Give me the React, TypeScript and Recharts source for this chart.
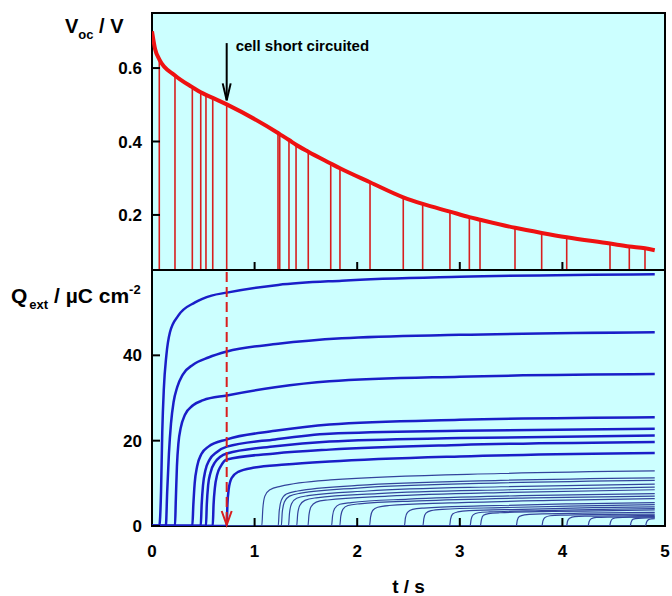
import React from 'react';
import { ComposedChart, Line, XAxis, YAxis, CartesianGrid, ReferenceLine, ReferenceArea } from 'recharts';

// ---------- data ----------
const xTicks = [0, 1, 2, 3, 4, 5];
const vocTicks = [0.2, 0.4, 0.6];
const qTicks = [0, 20, 40];

// times at which the cell was short circuited (s) and Voc read at that moment (V)
const shortTimes = [0.071, 0.224, 0.393, 0.475, 0.526, 0.592, 0.728, 1.228, 1.245, 1.335, 1.404, 1.523, 1.742, 1.832, 2.125, 2.449, 2.638, 2.904, 3.093, 3.197, 3.538, 3.798, 4.042, 4.464, 4.652, 4.805];
const vocAtShort = [0.624, 0.58, 0.548, 0.534, 0.527, 0.519, 0.501, 0.423, 0.42, 0.404, 0.391, 0.372, 0.34, 0.327, 0.289, 0.248, 0.23, 0.209, 0.194, 0.187, 0.165, 0.151, 0.139, 0.122, 0.114, 0.109];
const vocExtra = [[0, 0.7], [0.03, 0.652], [4.9, 0.104]];

const annotationTime = 0.728;
const annotationText = 'cell short circuited';

// extracted charge transients (t / s, Q / uC cm-2)
const thickCurves: number[][][] = [
  [[0, 0], [0.071, 0], [0.088, 8], [0.1, 22], [0.115, 32], [0.14, 40], [0.175, 45.4], [0.256, 49.3], [0.42, 52.4], [0.58, 54], [0.73, 54.7], [1.23, 56.5], [1.85, 57.5], [3, 58.4], [4.9, 59]],
  [[0, 0], [0.135, 0], [0.148, 8], [0.165, 17], [0.185, 24], [0.21, 29], [0.245, 32.5], [0.3, 35.5], [0.4, 37.8], [0.55, 39.5], [0.73, 40.9], [1.23, 42.7], [1.85, 44], [3, 44.8], [4.9, 45.4]],
  [[0, 0], [0.224, 0], [0.232, 6], [0.243, 14], [0.258, 19.5], [0.28, 23], [0.32, 26], [0.4, 28.3], [0.5, 29.5], [0.73, 30.6], [1.2, 32.5], [1.73, 33.9], [3, 35], [4.9, 35.6]],
  [[0, 0], [0.393, 0], [0.403, 5], [0.416, 10], [0.44, 14], [0.48, 16.8], [0.55, 18.6], [0.73, 20.3], [1.2, 22.3], [1.73, 23.8], [3, 24.9], [4.9, 25.5]],
  [[0, 0], [0.475, 0], [0.484, 5], [0.497, 9.5], [0.52, 13], [0.56, 15.5], [0.63, 17.3], [0.73, 18.6], [1.2, 20.3], [1.73, 21.6], [3, 22.3], [4.9, 22.8]],
  [[0, 0], [0.526, 0], [0.534, 5], [0.547, 9.5], [0.57, 12.5], [0.61, 14.8], [0.73, 17], [1.2, 18.7], [1.73, 19.8], [3, 20.6], [4.9, 21.2]],
  [[0, 0], [0.592, 0], [0.6, 5], [0.613, 9], [0.635, 12], [0.67, 14], [0.73, 15.6], [1.2, 17], [1.73, 17.9], [3, 19], [4.9, 19.7]],
  [[0, 0], [0.728, 0], [0.735, 5], [0.748, 8.7], [0.775, 11.2], [0.84, 12.7], [1.0, 13.7], [1.3, 14.4], [1.73, 15.1], [3, 16.3], [4.9, 17.1]],
];

const thinCurves: number[][][] = [
  [[0, 0], [1.07, 0], [1.08, 4], [1.1, 7], [1.15, 8.5], [1.25, 9.3], [1.74, 10.8], [3.4, 12.3], [4.9, 12.9]],
  [[0, 0], [1.23, 0], [1.24, 3.5], [1.26, 6], [1.31, 7.5], [1.42, 8.2], [2, 9.5], [3.4, 10.7], [4.9, 11.3]],
  [[0, 0], [1.26, 0], [1.27, 3.3], [1.29, 5.6], [1.34, 7], [1.45, 7.7], [2, 8.9], [3.4, 10.1], [4.9, 10.7]],
  [[0, 0], [1.33, 0], [1.34, 3], [1.36, 5.2], [1.41, 6.5], [1.52, 7.1], [2.1, 8.2], [3.4, 9.2], [4.9, 9.8]],
  [[0, 0], [1.41, 0], [1.42, 2.8], [1.44, 4.8], [1.49, 6], [1.6, 6.6], [2.2, 7.6], [3.5, 8.5], [4.9, 9.1]],
  [[0, 0], [1.52, 0], [1.53, 2.6], [1.55, 4.5], [1.6, 5.6], [1.71, 6.1], [2.3, 7.0], [3.5, 7.9], [4.9, 8.5]],
  [[0, 0], [1.75, 0], [1.76, 2.4], [1.78, 4.1], [1.83, 5.1], [1.94, 5.5], [2.5, 6.3], [3.6, 7.1], [4.9, 7.6]],
  [[0, 0], [1.83, 0], [1.84, 2.3], [1.86, 3.9], [1.91, 4.8], [2.02, 5.2], [2.6, 5.9], [3.7, 6.6], [4.9, 7.0]],
  [[0, 0], [2.12, 0], [2.13, 2.1], [2.15, 3.6], [2.2, 4.4], [2.31, 4.8], [2.9, 5.4], [3.9, 6.0], [4.9, 6.4]],
  [[0, 0], [2.46, 0], [2.47, 1.9], [2.49, 3.2], [2.54, 3.9], [2.65, 4.2], [3.2, 4.7], [4.1, 5.2], [4.9, 5.5]],
  [[0, 0], [2.64, 0], [2.65, 1.8], [2.67, 3.0], [2.72, 3.6], [2.83, 3.9], [3.4, 4.3], [4.2, 4.7], [4.9, 5.0]],
  [[0, 0], [2.9, 0], [2.91, 1.6], [2.93, 2.8], [2.98, 3.3], [3.09, 3.6], [3.6, 3.9], [4.3, 4.3], [4.9, 4.5]],
  [[0, 0], [3.1, 0], [3.11, 1.5], [3.13, 2.6], [3.18, 3.1], [3.29, 3.3], [3.8, 3.6], [4.4, 3.9], [4.9, 4.1]],
  [[0, 0], [3.2, 0], [3.21, 1.4], [3.23, 2.5], [3.28, 2.9], [3.39, 3.1], [3.9, 3.4], [4.5, 3.6], [4.9, 3.8]],
  [[0, 0], [3.55, 0], [3.56, 1.3], [3.58, 2.2], [3.63, 2.6], [3.74, 2.8], [4.2, 3.0], [4.9, 3.2]],
  [[0, 0], [3.8, 0], [3.81, 1.2], [3.83, 2.0], [3.88, 2.4], [3.99, 2.55], [4.4, 2.7], [4.9, 2.8]],
  [[0, 0], [4.04, 0], [4.05, 1.1], [4.07, 1.8], [4.12, 2.2], [4.23, 2.3], [4.6, 2.4], [4.9, 2.5]],
  [[0, 0], [4.25, 0], [4.26, 1.0], [4.28, 1.7], [4.33, 2.0], [4.44, 2.1], [4.9, 2.2]],
  [[0, 0], [4.46, 0], [4.47, 1.0], [4.49, 1.7], [4.54, 1.95], [4.65, 2.05], [4.9, 2.1]],
  [[0, 0], [4.66, 0], [4.67, 0.9], [4.69, 1.6], [4.74, 1.8], [4.85, 1.88], [4.9, 1.9]],
  [[0, 0], [4.81, 0], [4.82, 0.9], [4.84, 1.5], [4.87, 1.65], [4.9, 1.7]],
];

// ---------- derived tables ----------
const vocCurve = [...vocExtra, ...shortTimes.map((t, i) => [t, vocAtShort[i]])]
  .sort((a, b) => a[0] - b[0])
  .map(([t, v]) => ({ t, v }));
const toRows = (c: number[][]) => c.map(([t, q]) => ({ t, q }));
const annotationVoc = vocAtShort[shortTimes.indexOf(annotationTime)];

// ---------- styles ----------
const FONT = '"Liberation Sans", Arial, Helvetica, sans-serif';
const BG = '#ccffff';
const RED = '#ee1111';
const RED_LINE = '#d81e1e';
const BLUE = '#1a1ec8';
const BLUE_THIN = '#33449c';

const X_DOMAIN: [number, number] = [0, 5];
const VOC_DOMAIN: [number, number] = [0.05, 0.75];
const Q_DOMAIN: [number, number] = [0, 60];

function YTick(props: any) {
  const { x, y, payload } = props;
  return (
    <g>
      <line x1={x} y1={y} x2={x + 8} y2={y} stroke="#000" strokeWidth={2} />
      <text x={x - 10} y={y} dy="0.36em" textAnchor="end" fontFamily={FONT} fontWeight="bold" fontSize={17} fill="#000">
        {String(payload.value)}
      </text>
    </g>
  );
}

function makeXTick(withLabel: boolean) {
  return (props: any) => {
    const { x, y, payload } = props;
    const inner = payload.value > X_DOMAIN[0] && payload.value < X_DOMAIN[1];
    return (
      <g>
        {inner && <line x1={x} y1={y} x2={x} y2={y - 8} stroke="#000" strokeWidth={2} />}
        {withLabel && (
          <text x={x} y={y + 31} textAnchor="middle" fontFamily={FONT} fontWeight="bold" fontSize={17} fill="#000">
            {String(payload.value)}
          </text>
        )}
      </g>
    );
  };
}

function VocLabel(props: any) {
  const vb = props.viewBox || { x: 0, y: 13 };
  return (
    <text x={vb.x + 65} y={vb.y + 20} fontFamily={FONT} fontWeight="bold" fontSize={20} fill="#000">
      <tspan>V</tspan>
      <tspan fontSize={13} dy={6}>oc</tspan>
      <tspan dy={-6}> / V</tspan>
    </text>
  );
}

function QLabel(props: any) {
  const vb = props.viewBox || { x: 0, y: 10 };
  return (
    <text x={vb.x + 11} y={vb.y + 33} fontFamily={FONT} fontWeight="bold" fontSize={21} fill="#000">
      <tspan>Q</tspan>
      <tspan fontSize={13} dy={6} dx={2}>ext</tspan>
      <tspan dy={-6}> / µC cm</tspan>
      <tspan fontSize={13} dy={-9}>-2</tspan>
    </text>
  );
}

function TLabel(props: any) {
  const vb = props.viewBox || { x: 152, y: 266, width: 513 };
  return (
    <text x={vb.x + vb.width / 2} y={vb.y + 67} textAnchor="middle" fontFamily={FONT} fontWeight="bold" fontSize={19} fill="#000">
      t / s
    </text>
  );
}

function BlackArrow(props: any) {
  const { x1, y1, x2, y2 } = props;
  const top = Math.min(y1, y2);
  const tip = Math.max(y1, y2);
  return (
    <g>
      <line x1={x1} y1={top} x2={x2} y2={tip} stroke="#000" strokeWidth={2} />
      <polyline points={`${x2 - 4},${tip - 17} ${x2},${tip} ${x2 + 4},${tip - 17}`} fill="none" stroke="#000" strokeWidth={2} />
      <text x={x1 + 9} y={top + 7.5} fontFamily={FONT} fontWeight="bold" fontSize={15} fill="#000">
        {annotationText}
      </text>
    </g>
  );
}

function RedDashedArrow(props: any) {
  const { x1, y1, x2, y2 } = props;
  const top = Math.min(y1, y2);
  const tip = Math.max(y1, y2);
  return (
    <g>
      <line x1={x1} y1={top + 2} x2={x2} y2={tip - 2} stroke={RED_LINE} strokeWidth={2} strokeDasharray="10 5" />
      <polyline points={`${x2 - 5},${tip - 15} ${x2},${tip - 1} ${x2 + 5},${tip - 15}`} fill="none" stroke={RED_LINE} strokeWidth={2} />
    </g>
  );
}

export default function App() {
  return (
    <div style={{ position: 'absolute', left: 0, top: 0, width: 672, height: 596, background: '#fff' }}>
      <div style={{ position: 'absolute', left: 0, top: 0 }}>
        <ComposedChart width={672} height={280} margin={{ top: 13, right: 7, bottom: 0, left: 0 }}>
          <CartesianGrid horizontal={false} vertical={false} fill={BG} />
          <XAxis
            type="number"
            dataKey="t"
            domain={X_DOMAIN}
            ticks={xTicks}
            interval={0}
            height={10}
            tickSize={0}
            tickMargin={0}
            axisLine={false}
            tickLine={false}
            tick={makeXTick(false)}
            allowDataOverflow
          />
          <YAxis
            type="number"
            domain={VOC_DOMAIN}
            ticks={vocTicks}
            interval={0}
            width={152}
            tickSize={0}
            tickMargin={0}
            axisLine={false}
            tickLine={false}
            tick={<YTick />}
            allowDataOverflow
            label={{ content: (p: any) => <VocLabel {...p} /> }}
          />
          {shortTimes.map((t, i) => (
            <ReferenceLine
              key={'s' + i}
              segment={[{ x: t, y: VOC_DOMAIN[0] }, { x: t, y: vocAtShort[i] }]}
              stroke={RED_LINE}
              strokeWidth={1.6}
            />
          ))}
          <Line
            data={vocCurve}
            dataKey="v"
            type="monotone"
            stroke={RED}
            strokeWidth={4}
            dot={false}
            activeDot={false}
            isAnimationActive={false}
          />
          <ReferenceLine
            segment={[{ x: annotationTime, y: 0.668 }, { x: annotationTime, y: annotationVoc + 0.011 }]}
            shape={(p: any) => <BlackArrow {...p} />}
          />
          <ReferenceArea x1={X_DOMAIN[0]} x2={X_DOMAIN[1]} y1={VOC_DOMAIN[0]} y2={VOC_DOMAIN[1]} fill="none" stroke="#000" strokeWidth={2} fillOpacity={0} />
        </ComposedChart>
      </div>
      <div style={{ position: 'absolute', left: 0, top: 260 }}>
        <ComposedChart width={672} height={336} margin={{ top: 10, right: 7, bottom: 0, left: 0 }}>
          <CartesianGrid horizontal={false} vertical={false} fill={BG} />
          <XAxis
            type="number"
            dataKey="t"
            domain={X_DOMAIN}
            ticks={xTicks}
            interval={0}
            height={70}
            tickSize={0}
            tickMargin={0}
            axisLine={false}
            tickLine={false}
            tick={makeXTick(true)}
            allowDataOverflow
            label={{ content: (p: any) => <TLabel {...p} /> }}
          />
          <YAxis
            type="number"
            domain={Q_DOMAIN}
            ticks={qTicks}
            interval={0}
            width={152}
            tickSize={0}
            tickMargin={0}
            axisLine={false}
            tickLine={false}
            tick={<YTick />}
            allowDataOverflow
            label={{ content: (p: any) => <QLabel {...p} /> }}
          />
          {thinCurves.map((c, i) => (
            <Line
              key={'thin' + i}
              data={toRows(c)}
              dataKey="q"
              type="monotone"
              stroke={BLUE_THIN}
              strokeWidth={1.2}
              dot={false}
              activeDot={false}
              isAnimationActive={false}
            />
          ))}
          {thickCurves.map((c, i) => (
            <Line
              key={'thick' + i}
              data={toRows(c)}
              dataKey="q"
              type="monotone"
              stroke={BLUE}
              strokeWidth={2.5}
              dot={false}
              activeDot={false}
              isAnimationActive={false}
            />
          ))}
          <ReferenceLine
            segment={[{ x: annotationTime, y: Q_DOMAIN[1] }, { x: annotationTime, y: Q_DOMAIN[0] }]}
            shape={(p: any) => <RedDashedArrow {...p} />}
          />
          <ReferenceArea x1={X_DOMAIN[0]} x2={X_DOMAIN[1]} y1={Q_DOMAIN[0]} y2={Q_DOMAIN[1]} fill="none" stroke="#000" strokeWidth={2} fillOpacity={0} />
        </ComposedChart>
      </div>
    </div>
  );
}
